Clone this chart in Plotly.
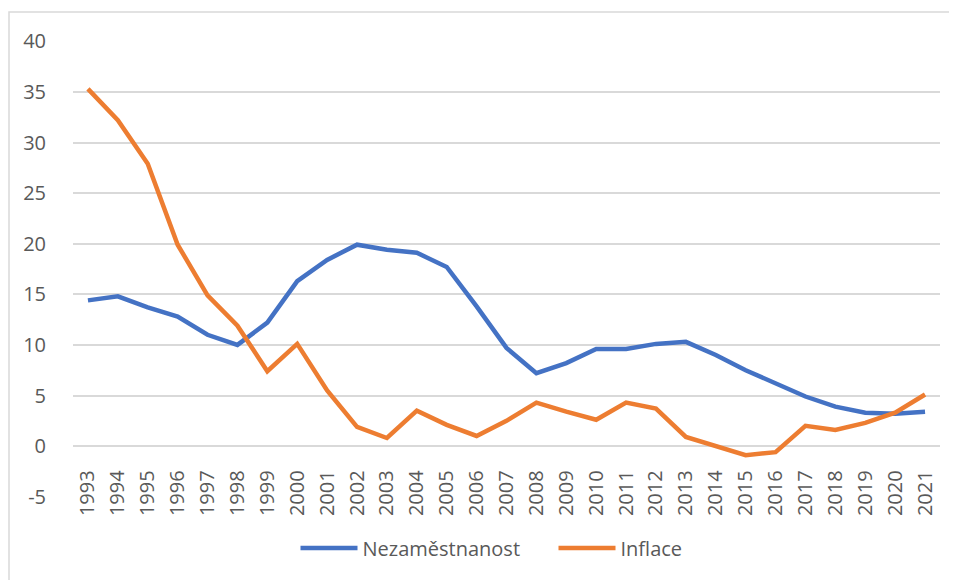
import plotly.graph_objects as go

years = [str(y) for y in range(1993, 2022)]
nezamestnanost = [14.4, 14.8, 13.7, 12.8, 11.0, 10.0, 12.2, 16.3, 18.4, 19.9,
                  19.4, 19.1, 17.7, 13.8, 9.7, 7.2, 8.2, 9.6, 9.6, 10.1,
                  10.3, 9.0, 7.5, 6.2, 4.9, 3.9, 3.3, 3.2, 3.4]
inflace = [35.3, 32.2, 27.9, 19.9, 14.9, 11.9, 7.4, 10.1, 5.5, 1.9,
           0.8, 3.5, 2.1, 1.0, 2.5, 4.3, 3.4, 2.6, 4.3, 3.7,
           0.9, 0.0, -0.9, -0.6, 2.0, 1.6, 2.3, 3.3, 5.1]
y_ticks = [-5, 0, 5, 10, 15, 20, 25, 30, 35, 40]
y_ticktext = [str(v) for v in y_ticks]  # plain hyphen for -5

OFF = 8  # page body margin
W, H = 957 - OFF, 580 - OFF
L, T = 73 - OFF, 41 - OFF
R = 957 - 940
B = 580 - 497
pw, ph = W - L - R, H - T - B
font_fam = "Open Sans, Liberation Sans, sans-serif"
txt = "#595959"

fig = go.Figure()
fig.add_trace(go.Scatter(x=years, y=nezamestnanost, name="Nezaměstnanost", mode="lines",
                         line=dict(color="#4472C4", width=4.5)))
fig.add_trace(go.Scatter(x=years, y=inflace, name="Inflace", mode="lines",
                         line=dict(color="#ED7D31", width=4.5)))

ymin, ymax = -5, 40
fig.update_layout(
    width=W, height=H,
    margin=dict(l=L, r=R, t=T, b=B, pad=0),
    paper_bgcolor="white", plot_bgcolor="white",
    font=dict(family=font_fam, size=20, color=txt),
    showlegend=True,
    legend=dict(orientation="h", x=0.5 + 47 / pw, xanchor="center", y=(497 - 548) / ph,
                yanchor="middle", font=dict(size=20, color=txt), itemwidth=57, entrywidth=186,
                entrywidthmode="pixels"),
    xaxis=dict(type="category", range=[-0.5, len(years) - 0.5], showgrid=False, zeroline=False,
               showline=False, tickangle=-90, anchor="free", position=(0 - ymin) / (ymax - ymin),
               ticks="outside", ticklen=15, tickcolor="rgba(0,0,0,0)",
               tickfont=dict(size=20, color=txt)),
    yaxis=dict(range=[ymin - 0.03, ymax + 0.03], tickvals=y_ticks, ticktext=y_ticktext,
               showgrid=True, gridcolor="#D9D9D9",
               gridwidth=1.5, zeroline=False, showline=False, ticks="outside", ticklen=22,
               tickcolor="rgba(0,0,0,0)", tickfont=dict(size=20, color=txt)),
)

# chart outline (Excel-like border)
fig.add_shape(type="rect", xref="paper", yref="paper",
              x0=(9 - OFF - L) / pw, x1=(W + 20 - L) / pw,
              y0=-(H + 20 - (T + ph)) / ph, y1=(T + ph - (12 - OFF)) / ph,
              line=dict(color="#D9D9D9", width=1.5), layer="below")

fig.write_html("out.html")
